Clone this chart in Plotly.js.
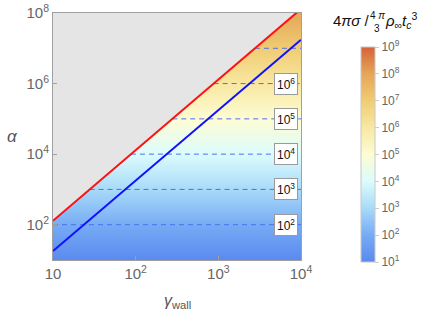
<!DOCTYPE html>
<html><head><meta charset="utf-8">
<script src="https://cdn.plot.ly/plotly-3.0.1.min.js"></script>
<style>html,body{margin:0;padding:0;background:#fff}#chart{width:436px;height:315px}</style>
</head><body><div id="chart"></div>
<script>
// gamma_wall endpoints of the two boundary lines
const gammaEnds = [10, 1e4];
const alphaRed = [130, 1.3e8];
const alphaBlue = [18, 1.75e7];
// colour field: log10 of the colour value at each alpha level (exponent rows)
const fieldRows = [1, 2, 3, 4, 5, 6, 7, 8];
const fieldCols = [1, 4];
// contour levels (exponent) and where each dashed line starts (gamma)
const contourExp = [2, 3, 4, 5, 6, 7];
const contourStart = [10, 27.7, 87.7, 277, 877, 2774];
const labelledExp = [2, 3, 4, 5, 6];
// colorbar
const cbTicks = [1, 2, 3, 4, 5, 6, 7, 8, 9];
const xTickVals = [10, 100, 1000, 10000];
const xTickText = ['10', '10<sup>2</sup>', '10<sup>3</sup>', '10<sup>4</sup>'];
const yTickVals = [1e2, 1e4, 1e6, 1e8];
const yTickText = ['10<sup>2</sup>', '10<sup>4</sup>', '10<sup>6</sup>', '10<sup>8</sup>'];

const colorscale = [
  [0.000, '#5a89ef'],
  [0.125, '#76abf5'],
  [0.250, '#a8daf8'],
  [0.375, '#dbfcfd'],
  [0.500, '#fdfcd4'],
  [0.625, '#f8e8a2'],
  [0.750, '#f0cc74'],
  [0.875, '#e5a659'],
  [1.000, '#d6623a']
];

const z = fieldRows.map(r => fieldCols.map(() => r));

const traces = [];
traces.push({
  type: 'heatmap', x: fieldCols, y: fieldRows, z: z, xaxis: 'x', yaxis: 'y',
  zsmooth: 'best', colorscale: colorscale, zmin: 1, zmax: 9, hoverinfo: 'skip',
  colorbar: {
    x: 1.242, xanchor: 'left', y: 0.427, yanchor: 'middle',
    lenmode: 'pixels', len: 215, thickness: 14, ypad: 0, xpad: 0,
    outlinecolor: '#c8c8c8', outlinewidth: 1,
    tickvals: cbTicks, ticktext: cbTicks.map(t => '10<sup>' + t + '</sup>'),
    ticks: 'outside', ticklen: 4, tickcolor: '#cccccc',
    tickfont: {family: 'Liberation Sans, Arial, sans-serif', size: 12, color: '#666'}
  }
});
// grey excluded region above red line
traces.push({
  type: 'scatter', mode: 'lines', xaxis: 'x2', yaxis: 'y2',
  x: [gammaEnds[0], gammaEnds[1], gammaEnds[1], gammaEnds[0]],
  y: [alphaRed[0], alphaRed[1], 1e9, 1e9],
  fill: 'toself', fillcolor: '#e5e5e5', line: {width: 0}, hoverinfo: 'skip'
});
contourExp.forEach((e, i) => {
  traces.push({
    type: 'scatter', mode: 'lines', xaxis: 'x2', yaxis: 'y2',
    x: [contourStart[i], gammaEnds[1]], y: [Math.pow(10, e), Math.pow(10, e)],
    line: {color: '#4d6ff0', width: 1, dash: '5px,4px'}, hoverinfo: 'skip'
  });
});
traces.push({type: 'scatter', mode: 'lines', xaxis: 'x2', yaxis: 'y2',
  x: gammaEnds, y: alphaRed, line: {color: '#ff1010', width: 2}});
traces.push({type: 'scatter', mode: 'lines', xaxis: 'x2', yaxis: 'y2',
  x: gammaEnds, y: alphaBlue, line: {color: '#1010ff', width: 2}});

const tf = {family: 'Liberation Sans, Arial, sans-serif', size: 15, color: '#666'};
const annotations = labelledExp.map(e => ({
  xref: 'paper', yref: 'y2', x: 0.94, xanchor: 'center', y: e, yanchor: 'middle',
  text: '10<sup>' + e + '</sup>',
  showarrow: false, bgcolor: '#ffffff', bordercolor: '#9a9a9a', borderwidth: 1, borderpad: 2,
  font: {family: 'Liberation Sans, Arial, sans-serif', size: 12, color: '#111'}
}));
const F = 'Liberation Sans, Arial, sans-serif';
annotations.push(
  {xref: 'paper', yref: 'paper', x: -0.165, xanchor: 'center', y: 0.498, yanchor: 'middle',
   text: '<i>α</i>', showarrow: false, font: {family: F, size: 17, color: '#555'}},
  {xref: 'paper', yref: 'paper', x: 0.5, xanchor: 'center', y: -0.17, yanchor: 'middle',
   text: '<i>γ</i><sub>wall</sub>', showarrow: false, font: {family: F, size: 16, color: '#555'}},
  {xref: 'paper', yref: 'paper', x: 1.284, xanchor: 'right', y: 0.968, yanchor: 'middle',
   text: '4<i>πσ</i> /', showarrow: false, font: {family: F, size: 15, color: '#111'}},
  {xref: 'paper', yref: 'paper', x: 1.308, xanchor: 'center', y: 0.99, yanchor: 'middle',
   text: '4 <i>π</i>', showarrow: false, font: {family: F, size: 10, color: '#111'}},
  {xref: 'paper', yref: 'paper', x: 1.308, xanchor: 'center', y: 0.937, yanchor: 'middle',
   text: '3', showarrow: false, font: {family: F, size: 10, color: '#111'}},
  {xref: 'paper', yref: 'paper', x: 1.331, xanchor: 'left', y: 0.968, yanchor: 'middle',
   text: '<i>ρ</i><sub>∞</sub><i>t</i><sub><i>c</i></sub><sup>3</sup>', showarrow: false,
   font: {family: F, size: 15, color: '#111'}}
);

const layout = {
  width: 436, height: 315,
  margin: {l: 53, r: 135, t: 13, b: 55},
  paper_bgcolor: '#ffffff', plot_bgcolor: '#ffffff',
  showlegend: false,
  xaxis: {visible: false, range: [1, 4], fixedrange: true},
  yaxis: {visible: false, range: [1, 8], fixedrange: true},
  xaxis2: {type: 'log', range: [1, 4], overlaying: 'x', anchor: 'y2', side: 'bottom',
    showline: true, linecolor: '#a0a0a0', linewidth: 1, mirror: true,
    ticks: 'inside', ticklen: 4, tickcolor: '#a0a0a0',
    tickvals: xTickVals, ticktext: xTickText, showgrid: false, zeroline: false, tickfont: tf},
  yaxis2: {type: 'log', range: [1, 8], overlaying: 'y', anchor: 'x2', side: 'left',
    showline: true, linecolor: '#a0a0a0', linewidth: 1, mirror: true,
    ticks: 'inside', ticklen: 4, tickcolor: '#a0a0a0',
    tickvals: yTickVals, ticktext: yTickText, showgrid: false, zeroline: false, tickfont: tf},
  annotations: annotations
};
Plotly.newPlot('chart', traces, layout, {staticPlot: true, displayModeBar: false});
</script></body></html>
